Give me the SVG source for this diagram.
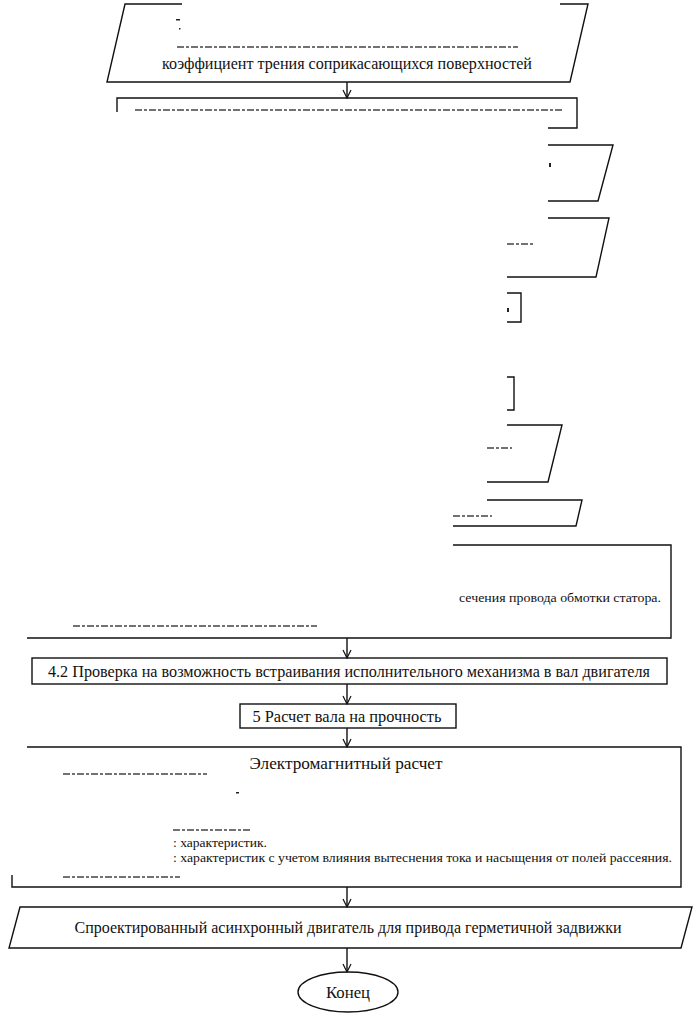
<svg xmlns="http://www.w3.org/2000/svg" width="696" height="1015" viewBox="0 0 696 1015">
<style>
.s{fill:none;stroke:#111;stroke-width:1.4}
.t{fill:#111}
.c{text-anchor:middle}
.f{fill:none;stroke:#444;stroke-width:1.5;stroke-dasharray:7 2 3 2}
.m{fill:#222}
</style>
<defs>
<marker id="arr" viewBox="-9 -5 10 10" refX="0" refY="0" markerWidth="10" markerHeight="10" markerUnits="userSpaceOnUse" orient="auto">
<path d="M-8,-4 L0,0 L-8,4" fill="none" stroke="#111" stroke-width="1.2"/>
</marker>
</defs>
<rect width="696" height="1015" fill="#fff"/>
<g font-family="'Liberation Serif', 'DejaVu Serif', serif">

<g id="n1">
<path class="s" d="M182,4 L125,4 L107,82 L570,82 L588,4 L560,4"/>
<rect class="m" x="176" y="19" width="4" height="1.5"/>
<rect class="m" x="179" y="28" width="1.5" height="1.5"/>
<line class="f" x1="177" y1="47" x2="518" y2="47"/>
<text class="t c" x="347" y="69" font-size="16.5" textLength="370" lengthAdjust="spacingAndGlyphs">коэффициент трения соприкасающихся поверхностей</text>
</g>

<g id="n2">
<path class="s" d="M117,112 L117,98 L577,98 L577,128 L548,128"/>
<line class="f" x1="135" y1="110" x2="562" y2="110"/>
</g>

<g id="n3">
<path class="s" d="M548,145 L613,145 L598,201 L548,201"/>
<rect class="m" x="549" y="163" width="2" height="4"/>
</g>

<g id="n4">
<path class="s" d="M548,218 L609,218 L596,277 L507,277"/>
<line class="f" x1="507" y1="244" x2="535" y2="244"/>
</g>

<g id="n5">
<path class="s" d="M507,293 L521,293 L521,322 L507,322"/>
<rect class="m" x="507" y="308" width="2" height="4"/>
</g>

<g id="n6">
<path class="s" d="M507,377 L514,377 L514,410 L507,410"/>
</g>

<g id="n7">
<path class="s" d="M507,425 L562,425 L548,482 L487,482"/>
<line class="f" x1="487" y1="448" x2="512" y2="448"/>
</g>

<g id="n8">
<path class="s" d="M487,500 L582,500 L576,526 L453,526"/>
<line class="f" x1="453" y1="516" x2="492" y2="516"/>
</g>

<g id="n9">
<path class="s" d="M453,545 L671,545 L671,638 L27,638"/>
<text class="t" x="661" y="602" font-size="13.5" text-anchor="end" textLength="202" lengthAdjust="spacingAndGlyphs">сечения провода обмотки статора.</text>
<line class="f" x1="73" y1="626" x2="317" y2="626"/>
</g>

<g id="n10">
<rect class="s" x="32" y="658" width="635" height="26"/>
<text class="t c" x="349" y="677" font-size="16.5" textLength="602" lengthAdjust="spacingAndGlyphs">4.2 Проверка на возможность встраивания исполнительного механизма в вал двигателя</text>
</g>

<g id="n11">
<rect class="s" x="240" y="704" width="216" height="24"/>
<text class="t c" x="347" y="722" font-size="16.5" textLength="189" lengthAdjust="spacingAndGlyphs">5 Расчет вала на прочность</text>
</g>

<g id="n12">
<path class="s" d="M27,747 L681,747 L681,887 L12,887 L12,875"/>
<text class="t c" x="346" y="769" font-size="16.5" textLength="193" lengthAdjust="spacingAndGlyphs">Электромагнитный расчет</text>
<line class="f" x1="63" y1="774" x2="207" y2="774"/>
<rect class="m" x="236" y="792" width="3" height="1.5"/>
<line class="f" x1="173" y1="830" x2="250" y2="830"/>
<text class="t" x="173" y="847" font-size="13.5" textLength="94" lengthAdjust="spacingAndGlyphs">: характеристик.</text>
<text class="t" x="173" y="862" font-size="13.5" textLength="499" lengthAdjust="spacingAndGlyphs">: характеристик с учетом влияния вытеснения тока и насыщения от полей рассеяния.</text>
<line class="f" x1="63" y1="877" x2="180" y2="877"/>
</g>

<g id="n13">
<path class="s" d="M20,907 L692,907 L681,948 L9,948 Z"/>
<text class="t c" x="348" y="933" font-size="16.5" textLength="547" lengthAdjust="spacingAndGlyphs">Спроектированный асинхронный двигатель для привода герметичной задвижки</text>
</g>

<g id="n14">
<ellipse class="s" cx="348" cy="992" rx="50" ry="20"/>
<text class="t c" x="348" y="998" font-size="16.5" textLength="44" lengthAdjust="spacingAndGlyphs">Конец</text>
</g>
</g>

<g id="connectors">
<line class="s" x1="347" y1="82" x2="347" y2="98" marker-end="url(#arr)"/>
<line class="s" x1="347" y1="638" x2="347" y2="658" marker-end="url(#arr)"/>
<line class="s" x1="347" y1="684" x2="347" y2="704" marker-end="url(#arr)"/>
<line class="s" x1="347" y1="728" x2="347" y2="747" marker-end="url(#arr)"/>
<line class="s" x1="347" y1="887" x2="347" y2="907" marker-end="url(#arr)"/>
<line class="s" x1="347" y1="948" x2="347" y2="972" marker-end="url(#arr)"/>
</g>
</svg>
